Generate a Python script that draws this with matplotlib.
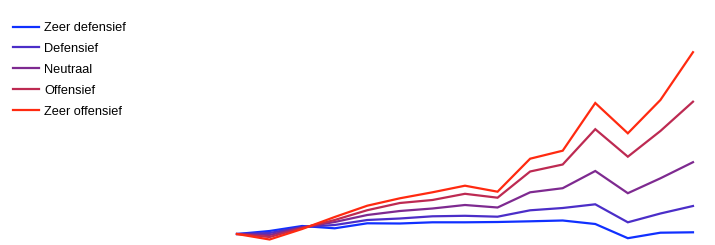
import matplotlib
matplotlib.use("Agg")
import matplotlib.pyplot as plt
import numpy as np

plt.rcParams['font.family'] = ['Liberation Sans', 'DejaVu Sans']

# Profiles and their (relative) development over 15 periods
labels = ['Zeer defensief', 'Defensief', 'Neutraal', 'Offensief', 'Zeer offensief']
colors = ['#1030ff', '#4b2ec8', '#7e2a90', '#bd2a52', '#ff2a10']
periods = list(range(15))

zeer_defensief = [0, 3, 8, 5.7, 10.7, 10.5, 11.7, 11.7, 12, 12.7, 13.5, 10, -4.2, 1.3, 1.7]
defensief = [0, 1, 7, 9, 14, 15.5, 17.7, 18.2, 17.3, 23.7, 26, 29.7, 11.7, 20.5, 28]
neutraal = [0, -1, 6.5, 12, 19, 23, 25.5, 29, 26.5, 41.7, 45.8, 63, 40.8, 55.7, 71.8]
offensief = [0, -3, 6, 14, 23.8, 31, 34, 40.2, 36.3, 62.5, 69.5, 104.8, 77.3, 103, 132.3]
zeer_offensief = [0, -5.5, 5, 17, 28.3, 35.7, 41.7, 48.3, 42.3, 75.3, 83.3, 131, 100.7, 134, 181.8]

series = [zeer_defensief, defensief, neutraal, offensief, zeer_offensief]

fig = plt.figure(figsize=(7.15, 2.45), dpi=100)
ax = fig.add_axes([0, 0, 1, 1])

for vals, lab, col in zip(series, labels, colors):
    ax.plot(periods, vals, color=col, lw=1.6, label=lab, solid_joinstyle='miter')

# map the data so the lines sit in the right part of the canvas
step = 32.57
ax.set_xlim(-237 / step, (715 - 237) / step)
ax.set_ylim(-11, 234)
ax.axis('off')

ax.legend(loc='upper left', bbox_to_anchor=(13 / 715, 1 - 22 / 245),
          frameon=False, fontsize=9.2, handlelength=2.05, handletextpad=0.4,
          labelspacing=0.7, borderpad=0, borderaxespad=0)

fig.savefig('out.png', dpi=100)
